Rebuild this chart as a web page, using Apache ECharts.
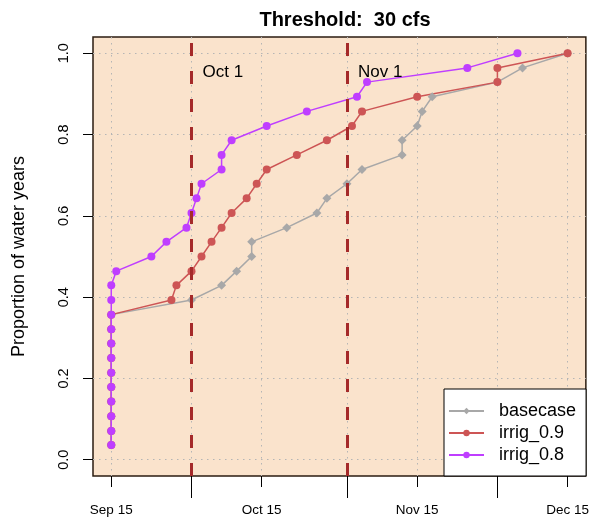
<!DOCTYPE html>
<html>
<head>
<meta charset="utf-8">
<script src="https://cdn.jsdelivr.net/npm/echarts@6/dist/echarts.min.js"></script>
<style>
  html, body { margin: 0; padding: 0; background: #fff; }
  #main { width: 592px; height: 525px; }
</style>
</head>
<body>
<div id="main"></div>
<script>
// x values are days after Sep 15
const labelDays = [0, 30, 61, 91];
const tickLabels = ['Sep 15', 'Oct 15', 'Nov 15', 'Dec 15'];
const monthDays = [16, 47, 77];          // Oct 1, Nov 1, Dec 1
const refDays = [16, 47];                // dashed reference lines
const refLabels = ['Oct 1', 'Nov 1'];
const yTicks = [0, 0.2, 0.4, 0.6, 0.8, 1.0];

const seriesNames = ['basecase', 'irrig_0.9', 'irrig_0.8'];

const baseDays = [0, 0, 0, 0, 0, 0, 0, 0, 0, 0, 16, 22, 25, 28, 28, 35, 41, 43, 47, 50, 58, 58, 61, 62, 64, 77, 82, 91];
const baseProp = [0.036, 0.071, 0.107, 0.143, 0.179, 0.214, 0.25, 0.286, 0.321, 0.357, 0.393, 0.429, 0.464, 0.5,
  0.536, 0.571, 0.607, 0.643, 0.679, 0.714, 0.75, 0.786, 0.821, 0.857, 0.893, 0.929, 0.964, 1.0];

const irr9Days = [0, 0, 0, 0, 0, 0, 0, 0, 0, 0, 12, 13, 16, 18, 20, 22, 24, 27, 29, 31, 37, 43, 48, 50, 61, 77, 77, 91];
const irr9Prop = [0.036, 0.071, 0.107, 0.143, 0.179, 0.214, 0.25, 0.286, 0.321, 0.357, 0.393, 0.429, 0.464, 0.5,
  0.536, 0.571, 0.607, 0.643, 0.679, 0.714, 0.75, 0.786, 0.821, 0.857, 0.893, 0.929, 0.964, 1.0];

const irr8Days = [0, 0, 0, 0, 0, 0, 0, 0, 0, 0, 0, 0, 1, 8, 11, 15, 16, 17, 18, 22, 22, 24, 31, 39, 49, 51, 71, 81];
const irr8Prop = [0.036, 0.071, 0.107, 0.143, 0.179, 0.214, 0.25, 0.286, 0.321, 0.357, 0.393, 0.429, 0.464, 0.5,
  0.536, 0.571, 0.607, 0.643, 0.679, 0.714, 0.75, 0.786, 0.821, 0.857, 0.893, 0.929, 0.964, 1.0];

const FONT = '"Liberation Sans", Arial, Helvetica, sans-serif';
const gridLine = { show: true, lineStyle: { color: '#b5b5b5', width: 1, type: [1.5, 4.5] } };

const pair = (xs, ys) => xs.map((x, i) => [x, ys[i]]);

const chart = echarts.init(document.getElementById('main'));

const xBase = {
  type: 'value',
  min: -3.64,
  max: 94.64,
  position: 'bottom',
  axisLine: { show: false, onZero: false }
};

const option = {
  animation: false,
  textStyle: { fontFamily: FONT },
  title: {
    text: 'Threshold:  30 cfs',
    left: 340,
    top: 5,
    textAlign: 'center',
    textStyle: { fontFamily: FONT, fontSize: 20, fontWeight: 'bold', color: '#000' }
  },
  grid: {
    left: 93, right: 6, top: 37, bottom: 49,
    show: true,
    backgroundColor: '#fae3cc',
    borderColor: '#2b1d10',
    borderWidth: 1.5
  },
  legend: {
    data: seriesNames,
    orient: 'vertical',
    left: 444,
    top: 389,
    backgroundColor: '#fff',
    borderColor: '#000',
    borderWidth: 1,
    padding: [13, 10, 12, 4],
    itemWidth: 35,
    itemHeight: 8,
    itemGap: 4,
    textStyle: { fontFamily: FONT, fontSize: 18, color: '#000', lineHeight: 18, padding: [0, 0, 0, 10] }
  },
  xAxis: [
    Object.assign({}, xBase, {
      axisTick: { show: true, length: 11, lineStyle: { color: '#000' }, customValues: labelDays },
      axisLabel: {
        customValues: labelDays,
        margin: 27,
        fontSize: 13.5,
        color: '#000',
        fontFamily: FONT,
        formatter: v => tickLabels[labelDays.indexOf(v)] || ''
      },
      splitLine: gridLine
    }),
    Object.assign({}, xBase, {
      axisTick: { show: true, length: 22, lineStyle: { color: '#000' }, customValues: monthDays },
      axisLabel: { show: false, customValues: monthDays },
      splitLine: gridLine
    })
  ],
  yAxis: {
    type: 'value',
    min: -0.04,
    max: 1.04,
    name: 'Proportion of water years',
    nameLocation: 'middle',
    nameGap: 65,
    nameTextStyle: { fontFamily: FONT, fontSize: 18, color: '#000' },
    axisLine: { show: false, onZero: false },
    axisTick: { show: true, length: 10, lineStyle: { color: '#000' }, customValues: yTicks },
    axisLabel: {
      customValues: yTicks,
      rotate: 90,
      margin: 22,
      fontSize: 14.5,
      color: '#000',
      fontFamily: FONT,
      formatter: v => v.toFixed(1)
    },
    splitLine: gridLine
  },
  series: [
    {
      name: seriesNames[0],
      type: 'line',
      data: pair(baseDays, baseProp),
      color: '#a8a8a8',
      symbol: 'diamond',
      symbolSize: 9,
      lineStyle: { width: 1.5 },
      markLine: {
        silent: true,
        symbol: 'none',
        lineStyle: { color: '#a52a2a', width: 3, type: [13, 15] },
        label: { show: false },
        data: refDays.map(d => [{ coord: [d, -0.04] }, { coord: [d, 1.04] }])
      },
      markPoint: {
        silent: true,
        symbol: 'circle',
        symbolSize: 0,
        label: {
          show: true,
          position: 'right',
          distance: 11,
          fontFamily: FONT,
          fontSize: 17,
          color: '#000',
          formatter: p => p.name
        },
        data: refDays.map((d, i) => ({ name: refLabels[i], coord: [d, 0.952] }))
      }
    },
    {
      name: seriesNames[1],
      type: 'line',
      data: pair(irr9Days, irr9Prop),
      color: '#cd5555',
      symbol: 'circle',
      symbolSize: 8,
      lineStyle: { width: 1.5 }
    },
    {
      name: seriesNames[2],
      type: 'line',
      data: pair(irr8Days, irr8Prop),
      color: '#bf3eff',
      symbol: 'circle',
      symbolSize: 8,
      lineStyle: { width: 1.5 }
    }
  ]
};

chart.setOption(option);
window.onresize = () => chart.resize();
</script>
</body>
</html>
